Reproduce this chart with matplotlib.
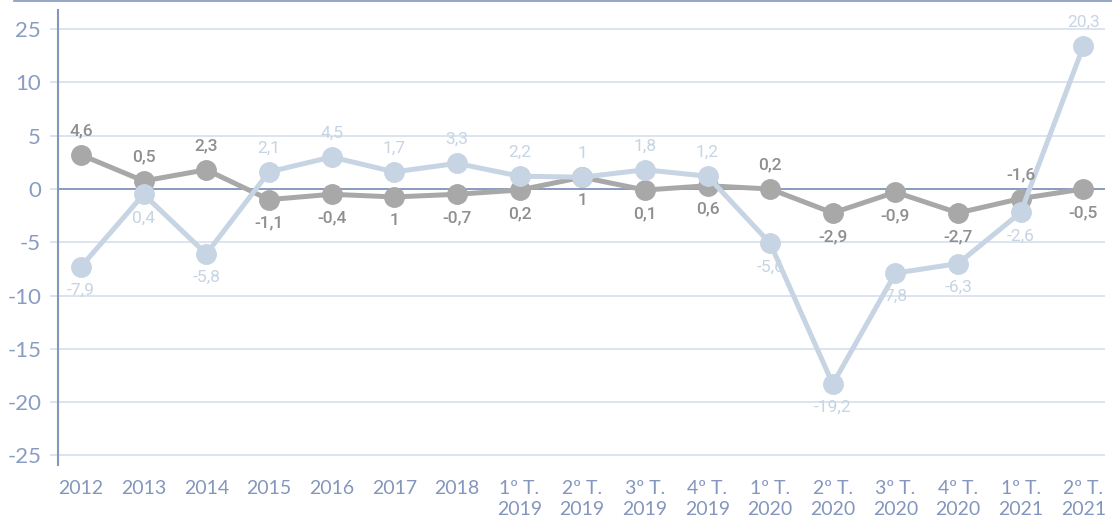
import matplotlib
matplotlib.use("Agg")
import matplotlib.pyplot as plt
from matplotlib.lines import Line2D

categories = ["2012", "2013", "2014", "2015", "2016", "2017", "2018",
              "1º T.\n2019", "2º T.\n2019", "3º T.\n2019", "4º T.\n2019",
              "1º T.\n2020", "2º T.\n2020", "3º T.\n2020", "4º T.\n2020",
              "1º T.\n2021", "2º T.\n2021"]

# plotted positions
dark_values = [3.2, 0.75, 1.8, -1.0, -0.5, -0.75, -0.5, -0.1, 1.1, -0.1, 0.3,
               0.0, -2.25, -0.3, -2.25, -0.9, 0.0]
light_values = [-7.3, -0.5, -6.1, 1.6, 3.0, 1.6, 2.4, 1.2, 1.1, 1.8, 1.2,
                -5.1, -18.3, -7.9, -7.0, -2.2, 13.4]

# data labels shown on the chart
dark_labels = ["4,6", "0,5", "2,3", "-1,1", "-0,4", "1", "-0,7", "0,2", "1", "0,1",
               "0,6", "0,2", "-2,9", "-0,9", "-2,7", "-1,6", "-0,5"]
light_labels = ["-7,9", "0,4", "-5,8", "2,1", "4,5", "1,7", "3,3", "2,2", "1", "1,8",
                "1,2", "-5,6", "-19,2", "7,8", "-6,3", "-2,6", "20,3"]
dark_above = [True, True, True, False, False, False, False, False, False, False,
              False, True, False, False, False, True, False]
light_above = [False, False, False, True, True, True, True, True, True, True,
               True, False, False, False, False, False, True]

y_ticks = [-25, -20, -15, -10, -5, 0, 5, 10, 15]
y_tick_labels = ["-25", "-20", "-15", "-10", "-5", "0", "5", "10", "25"]

dark_color = "#a8a8a8"
light_color = "#c6d4e3"
axis_color = "#8496bd"
grid_color = "#d5dfec"

fig = plt.figure(figsize=(11.12, 5.23), dpi=100)
ax = fig.add_axes([0.052, 0.111, 0.942, 0.870])

x = list(range(len(categories)))

ax.plot(x, dark_values, color=dark_color, lw=3.6, marker="o", ms=14,
        solid_joinstyle="round", zorder=3)
ax.plot(x, light_values, color=light_color, lw=3.6, marker="o", ms=14,
        solid_joinstyle="round", zorder=4)

for i in x:
    off = 17 if dark_above[i] else -17
    ax.annotate(dark_labels[i], (i, dark_values[i]), xytext=(0, off),
                textcoords="offset points", ha="center", va="center",
                fontsize=12.5, color="#8f8f8f", family="Roboto", fontweight="medium",
                zorder=5)
    off = 17 if light_above[i] else -17
    ax.annotate(light_labels[i], (i, light_values[i]), xytext=(0, off),
                textcoords="offset points", ha="center", va="center",
                fontsize=12.5, color=light_color, family="Roboto", zorder=5)

ax.axhline(0, color=axis_color, lw=1.3, zorder=2)

ax.set_xlim(-0.37, 16.35)
ax.set_ylim(-25.9, 16.8)
ax.set_yticks(y_ticks)
ax.set_yticklabels(y_tick_labels)
ax.set_xticks(x)
ax.set_xticklabels(categories)

ax.grid(axis="y", color=grid_color, lw=1.2, zorder=1)
ax.tick_params(axis="y", length=6, color=grid_color, width=1.2, pad=6,
               labelsize=16, labelcolor="#8a9cc4")
ax.tick_params(axis="x", length=0, pad=11, labelsize=14, labelcolor=axis_color)
for lbl in ax.get_yticklabels():
    lbl.set_family("Lato")
for lbl in ax.get_xticklabels():
    lbl.set_family("Lato")
    lbl.set_linespacing(1.25)

for s in ["top", "right", "bottom"]:
    ax.spines[s].set_visible(False)
ax.spines["left"].set_color(axis_color)
ax.spines["left"].set_linewidth(1.5)

fig.add_artist(Line2D([0.013, 1.0], [0.998, 0.998], color=axis_color, lw=1.2,
                      transform=fig.transFigure))

fig.savefig("out.png", dpi=100)
